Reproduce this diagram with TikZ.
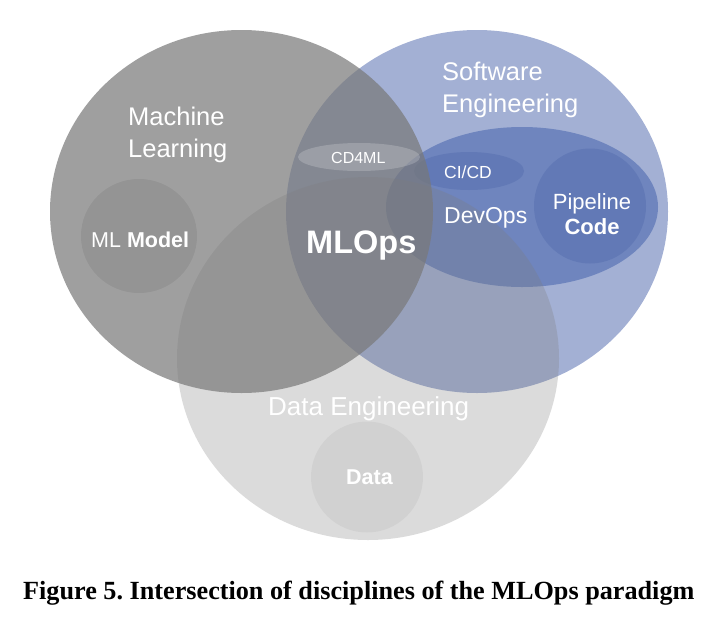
\documentclass[tikz,border=0pt]{standalone}
\usepackage{fontspec}
\setmainfont{Liberation Sans}
\newfontfamily\capfont{Liberation Serif}
\usetikzlibrary{positioning}
\frenchspacing
\definecolor{seBlue}{HTML}{A3B0D4}
\definecolor{devBlue}{HTML}{6F85BE}
\definecolor{pipeBlue}{HTML}{6279B6}
\definecolor{mlGray}{HTML}{787878}
\definecolor{deGray}{HTML}{7D7D7D}
\tikzset{
  lbl/.style={text=white, inner sep=0pt, anchor=base west},
  lblTop/.style={text=white, inner sep=0pt, align=left},
  mlFill/.style={fill=mlGray, fill opacity=0.71},
  deFill/.style={fill=deGray, fill opacity=0.28},
}

\begin{document}
\begin{tikzpicture}[x=1pt, y=-1pt]
  \useasboundingbox (0,0) rectangle (711,616);
  % --- software engineering and its inner shapes ---
  \fill[seBlue] (477,211.5) ellipse [x radius=191pt, y radius=181.5pt];
  \fill[devBlue] (522,207) ellipse [x radius=136pt, y radius=80pt];
  \fill[pipeBlue] (469,171) ellipse [x radius=55pt, y radius=19pt];
  \fill[pipeBlue] (590,206) ellipse [x radius=56pt, y radius=57.5pt];
  % --- machine learning ---
  \fill[mlFill] (241.5,211.5) ellipse [x radius=191.5pt, y radius=181.5pt];
  \fill[mlGray, fill opacity=0.3] (139,236) ellipse [x radius=58pt, y radius=57pt];
  % --- data engineering ---
  \fill[deFill] (368,358.5) ellipse [x radius=191pt, y radius=181.5pt];
  \fill[deGray, fill opacity=0.1] (367,477) ellipse [x radius=56pt, y radius=55.5pt];
  % CD4ML sits on the overlap
  \fill[white, fill opacity=0.19] (359,157) ellipse [x radius=61pt, y radius=14pt];
  % --- labels ---
  \node[lblTop, anchor=north west, font=\fontsize{25.5}{32}\selectfont] (mlLbl) at (128,106.5)
    {Machine\\Learning};
  \node[lblTop, anchor=north west, font=\fontsize{25.5}{32}\selectfont] (seLbl) at (442,61.5)
    {Software\\Engineering};
  \node[lbl, font=\fontsize{21.5}{24}\selectfont] (modelLbl) at (91,247) {ML \textbf{Model}};
  \node[lbl, font=\fontsize{32.5}{36}\selectfont\bfseries] (mlopsLbl) at (306,253) {MLOps};
  \node[lbl, font=\fontsize{16}{18}\selectfont] (cdmlLbl) at (331,163) {CD4ML};
  \node[lbl, font=\fontsize{17.5}{20}\selectfont] (cicdLbl) at (444,178) {CI/CD};
  \node[lbl, font=\fontsize{23}{26}\selectfont] (devLbl) at (444,223) {DevOps};
  \node[lblTop, anchor=north, align=center, font=\fontsize{22}{25}\selectfont] (pipeLbl) at (592,193)
    {Pipeline\\\textbf{Code}};
  \node[lbl, font=\fontsize{26}{30}\selectfont] (deLbl) at (268,415) {Data Engineering};
  \node[lbl, font=\fontsize{21.5}{24}\selectfont\bfseries] (dataLbl) at (346,484) {Data};
  % --- caption ---
  \node[inner sep=0pt, anchor=base west, font=\capfont\fontsize{26.2}{30}\selectfont\bfseries] (capLbl) at (23,599)
    {Figure 5. Intersection of disciplines of the MLOps paradigm};
\end{tikzpicture}
\end{document}
